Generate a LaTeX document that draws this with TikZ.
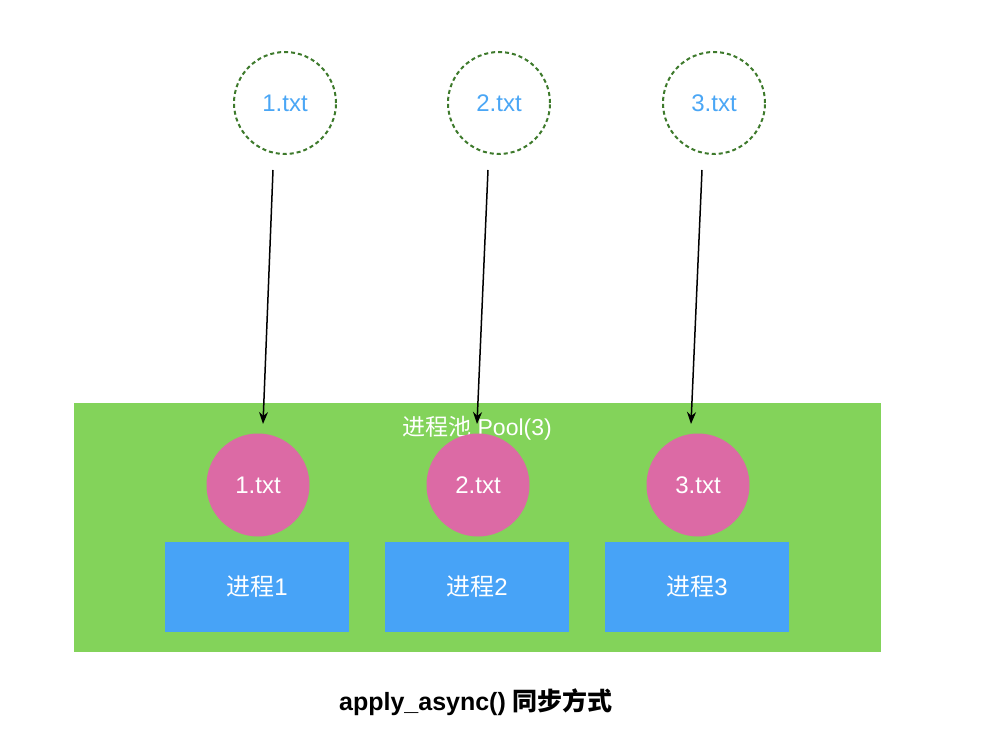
\documentclass[tikz,border=0pt]{standalone}
\usepackage{fontspec}
\setmainfont{Liberation Sans}
\newfontfamily\cjk{Noto Sans CJK SC}
\usetikzlibrary{arrows.meta}
\definecolor{poolgreen}{HTML}{83D35A}
\definecolor{procblue}{HTML}{47A3F7}
\definecolor{filepink}{HTML}{DC6AA5}
\definecolor{dashgreen}{HTML}{3E7A2C}
\definecolor{txtblue}{HTML}{4AA6F5}
\tikzset{
  lbl/.style={font=\fontsize{24}{28}\selectfont},
  filecirc/.style={circle, draw=dashgreen, line width=2pt, dash pattern=on 4pt off 3pt, minimum size=102pt, inner sep=0pt, text=txtblue, lbl},
  taskcirc/.style={circle, fill=filepink, minimum size=103pt, inner sep=0pt, text=white, lbl},
  procbox/.style={rectangle, fill=procblue, minimum width=184pt, minimum height=90pt, inner sep=0pt, text=white, lbl},
  flow/.style={line width=1.5pt, -{Stealth[length=12pt,width=9pt]}}
}
\begin{document}
\begin{tikzpicture}[x=1pt,y=-1pt]
\useasboundingbox (0,0) rectangle (990,738);
\node[fill=poolgreen, minimum width=807pt, minimum height=249pt, inner sep=0pt, anchor=north west] (pool) at (74,403) {};
\node[text=white, font=\fontsize{23}{27}\selectfont] (poollabel) at (477,428) {{\cjk 进程池} Pool(3)};
\foreach \i/\x/\cx/\bx in {1/285/258/257, 2/499/478/477, 3/714/698/697} {
  \node[filecirc] (f\i) at (\x,103) {\i.txt};
  \node[taskcirc] (t\i) at (\cx,485) {\i.txt};
  \node[procbox] (p\i) at (\bx,587) {{\cjk 进程}\i};
}
\coordinate (s1) at (273,170); \coordinate (e1) at (263,424);
\coordinate (s2) at (488,170); \coordinate (e2) at (477,424);
\coordinate (s3) at (702,170); \coordinate (e3) at (691,424);
\draw[flow] (s1) -- (e1);
\draw[flow] (s2) -- (e2);
\draw[flow] (s3) -- (e3);
\node[font=\bfseries\fontsize{25}{29}\selectfont] (caption) at (476,702) {apply\_async() {\cjk\bfseries 同步方式}};
\end{tikzpicture}
\end{document}
